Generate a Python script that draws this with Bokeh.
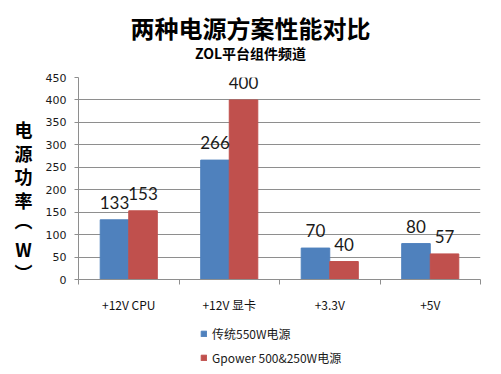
from bokeh.plotting import figure
from bokeh.models import ColumnDataSource, Range1d, FixedTicker, LabelSet, Label, Legend, LegendItem
from bokeh.layouts import column, row
from bokeh.transform import dodge
from bokeh.core.properties import value
from bokeh.embed import file_html
from bokeh.resources import INLINE

title_text = "两种电源方案性能对比"
subtitle_text = "ZOL平台组件频道"
categories = ["+12V CPU", "+12V 显卡", "+3.3V", "+5V"]
series_names = ["传统550W电源", "Gpower 500&250W电源"]
traditional = [133, 266, 70, 80]
gpower = [153, 400, 40, 57]
y_ticks = [0, 50, 100, 150, 200, 250, 300, 350, 400, 450]
y_label_chars = ["电", "源", "功", "率", "︵", "W", "︶"]

BLUE = "#4F81BD"
RED = "#C0504D"
GRID = "#8E8E8E"
CJK = "Noto Sans CJK SC"

idx = list(range(len(categories)))
src = ColumnDataSource(dict(
    x=idx, a=traditional, b=gpower,
    la=[str(v) for v in traditional], lb=[str(v) for v in gpower],
))

W = 501
H_TOP, H_MAIN, H_LEG = 62, 260, 52
YLAB_W = 40
FRAME_L, FRAME_R = 78, 21          # frame left edge / right border (page px)
MAIN_TOP, MAIN_BOTTOM = 77 - H_TOP, 43
bw = 0.284


def strip(width, height, left=0, right=0, top=0, bottom=0):
    f = figure(width=width, height=height, output_backend="svg", toolbar_location=None,
               title=None, x_axis_type=None, y_axis_type=None,
               x_range=Range1d(0, 1), y_range=Range1d(0, 1),
               min_border_left=left, min_border_right=right,
               min_border_top=top, min_border_bottom=bottom)
    f.outline_line_color = None
    f.background_fill_color = "white"
    f.border_fill_color = "white"
    return f


# ---- title strip (frame aligned with the chart frame: 78..480)
pt = strip(W, H_TOP, left=FRAME_L, right=FRAME_R)
pt.add_layout(Label(x=250 - FRAME_L, y=H_TOP - 27, x_units="screen", y_units="screen",
                    text=title_text, text_align="center", text_baseline="middle", text_font=CJK,
                    text_font_size="24px", text_font_style="bold", text_color="#000000"))
pt.add_layout(Label(x=250 - FRAME_L, y=H_TOP - 52, x_units="screen", y_units="screen",
                    text=subtitle_text, text_align="center", text_baseline="middle", text_font=CJK,
                    text_font_size="14px", text_font_style="bold", text_color="#000000"))

# ---- y-axis title strip (stacked characters); frame matches chart frame rows 77..279
py = strip(YLAB_W, H_MAIN, top=MAIN_TOP, bottom=MAIN_BOTTOM)
frame_bottom_page = H_TOP + H_MAIN - MAIN_BOTTOM
char_y = [128, 152, 175, 199, 219, 248, 271]
for ch, yy in zip(y_label_chars, char_y):
    py.add_layout(Label(x=23, y=frame_bottom_page - yy, x_units="screen", y_units="screen",
                        text=ch, text_align="center", text_baseline="middle", text_font=CJK,
                        text_font_size="18px", text_font_style="bold", text_color="#000000"))

# ---- main chart
p = figure(width=W - YLAB_W, height=H_MAIN, output_backend="svg", toolbar_location=None, title=None,
           x_range=Range1d(-0.5, len(categories) - 0.5), y_range=Range1d(0, 450),
           min_border_left=FRAME_L - YLAB_W, min_border_right=FRAME_R,
           min_border_top=MAIN_TOP, min_border_bottom=MAIN_BOTTOM)
p.outline_line_color = None
p.background_fill_color = "white"
p.border_fill_color = "white"

p.vbar(x=dodge("x", -bw / 2, range=p.x_range), top="a", width=bw, source=src,
       fill_color=BLUE, line_color=BLUE)
p.vbar(x=dodge("x", bw / 2, range=p.x_range), top="b", width=bw, source=src,
       fill_color=RED, line_color=RED)

for col, lab, off in (("a", "la", -bw / 2), ("b", "lb", bw / 2)):
    p.add_layout(LabelSet(x=dodge("x", off, range=p.x_range), y=col, text=lab, source=src,
                          y_offset=11, text_align="center", text_baseline="alphabetic",
                          text_font=value("Lato"), text_font_size="17px", text_color="#1a1a1a"))

p.xaxis.ticker = FixedTicker(ticks=idx, minor_ticks=[i - 0.5 for i in range(len(categories) + 1)])
p.xaxis.major_label_overrides = {i: c for i, c in enumerate(categories)}
p.xaxis.major_tick_line_color = None
p.xaxis.minor_tick_line_color = GRID
p.xaxis.minor_tick_out = 5
p.xaxis.minor_tick_in = 0
p.xaxis.axis_line_color = GRID
p.xaxis.major_label_standoff = 10
p.xaxis.major_label_text_font = CJK
p.xaxis.major_label_text_font_size = "12px"
p.xaxis.major_label_text_color = "#111111"
p.xgrid.grid_line_color = None

p.yaxis.ticker = FixedTicker(ticks=y_ticks, minor_ticks=[])
p.yaxis.axis_line_color = GRID
p.yaxis.major_tick_line_color = GRID
p.yaxis.major_tick_out = 4
p.yaxis.major_tick_in = 0
p.yaxis.minor_tick_line_color = None
p.yaxis.major_label_standoff = 8
p.yaxis.major_label_text_font = "DejaVu Sans"
p.yaxis.major_label_text_font_size = "11px"
p.yaxis.major_label_text_color = "#1a1a1a"
p.ygrid.ticker = FixedTicker(ticks=y_ticks)
p.ygrid.grid_line_color = GRID

# ---- legend strip (frame aligned with the chart frame)
pl = strip(W, H_LEG, left=FRAME_L, right=FRAME_R)
pl.x_range = Range1d(-0.5, len(categories) - 0.5)
pl.y_range = Range1d(1000, 1001)  # series bars lie outside this window; only their legend swatches show
lb = pl.vbar(x=dodge("x", -bw / 2, range=pl.x_range), top="a", width=bw, source=src,
             fill_color=BLUE, line_color=BLUE)
lr = pl.vbar(x=dodge("x", bw / 2, range=pl.x_range), top="b", width=bw, source=src,
             fill_color=RED, line_color=RED)
legend = Legend(items=[LegendItem(label=series_names[0], renderers=[lb]),
                       LegendItem(label=series_names[1], renderers=[lr])],
                location=(200 - FRAME_L, 8), orientation="vertical",
                glyph_width=7, glyph_height=7, label_standoff=5, spacing=6,
                label_height=18, padding=0, margin=0,
                border_line_color=None, background_fill_alpha=0,
                label_text_font=CJK, label_text_font_size="12px",
                label_text_color="#1a1a1a")
pl.add_layout(legend)

layout = column(pt, row(py, p, spacing=0), pl, spacing=0)
open("out.html", "w").write(file_html(layout, INLINE))
